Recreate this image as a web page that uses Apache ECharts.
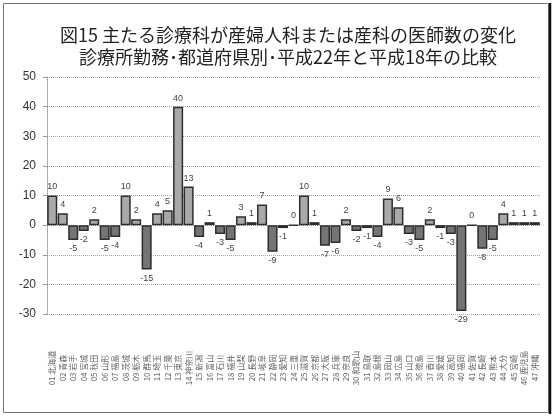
<!DOCTYPE html>
<html>
<head>
<meta charset="utf-8">
<script src="https://cdn.jsdelivr.net/npm/echarts@6/dist/echarts.min.js"></script>
<style>
  html, body { margin: 0; padding: 0; background: #fff; }
  #chart { width: 555px; height: 420px; }
</style>
</head>
<body>
<div id="chart"></div>
<script>
// Prefectures (code + name) along the category axis
const prefectures = [
  '01 北海道', '02 青森', '03 岩手', '04 宮城', '05 秋田', '06 山形', '07 福島',
  '08 茨城', '09 栃木', '10 群馬', '11 埼玉', '12 千葉', '13 東京', '14 神奈川',
  '15 新潟', '16 富山', '17 石川', '18 福井', '19 山梨', '20 長野', '21 岐阜',
  '22 静岡', '23 愛知', '24 三重', '25 滋賀', '26 京都', '27 大阪', '28 兵庫',
  '29 奈良', '30 和歌山', '31 鳥取', '32 島根', '33 岡山', '34 広島', '35 山口',
  '36 徳島', '37 香川', '38 愛媛', '39 高知', '40 福岡', '41 佐賀', '42 長崎',
  '43 熊本', '44 大分', '45 宮崎', '46 鹿児島', '47 沖縄'
];

// Change in number of clinic-based OB/GYN doctors (H22 minus H18)
const changeH22vsH18 = [
  10, 4, -5, -2, 2, -5, -4, 10, 2, -15,
  4, 5, 40, 13, -4, 1, -3, -5, 3, 1,
  7, -9, -1, 0, 10, 1, -7, -6, 2, -2,
  -1, -4, 9, 6, -3, -5, 2, -1, -3, -29,
  0, -8, -5, 4, 1, 1, 1
];

// Value axis ticks
const yTicks = { min: -30, max: 50, step: 10 };

const titleLines = [
  '図15 主たる診療科が産婦人科または産科の医師数の変化',
  '診療所勤務･都道府県別･平成22年と平成18年の比較'
];

const chart = echarts.init(document.getElementById('chart'));

const barItems = changeH22vsH18.map(v => ({
  value: v,
  itemStyle: { color: v < 0 ? '#747474' : '#a9a9a9' },
  label: { position: v < 0 ? 'bottom' : 'top' }
}));

chart.setOption({
  backgroundColor: '#ffffff',
  animation: false,
  title: {
    text: titleLines.join('\n'),
    left: 283,
    textAlign: 'center',
    top: 19,
    textStyle: {
      fontFamily: '"Noto Sans CJK JP", sans-serif',
      fontSize: 18,
      fontWeight: 'normal',
      lineHeight: 22,
      color: '#222'
    }
  },
  grid: { left: 47, right: 15, top: 77, bottom: 106 },
  xAxis: {
    type: 'category',
    data: prefectures,
    axisLine: { show: false, onZero: false },
    axisTick: { show: false },
    axisLabel: {
      interval: 0,
      rotate: 90,
      align: 'center',
      verticalAlign: 'middle',
      margin: 54,
      fontSize: 8,
      color: '#666',
      fontFamily: '"Noto Sans CJK JP", sans-serif'
    }
  },
  yAxis: {
    type: 'value',
    min: yTicks.min,
    max: yTicks.max,
    interval: yTicks.step,
    axisLine: { show: true, lineStyle: { color: '#9a9a9a', type: 'dotted', width: 1 } },
    axisTick: { show: true, length: 4, lineStyle: { color: '#9a9a9a' } },
    axisLabel: {
      margin: 11,
      fontSize: 12,
      color: '#333',
      fontFamily: '"Liberation Sans", sans-serif'
    },
    splitLine: { show: true, lineStyle: { color: '#a0a0a0', type: 'dotted', width: 1 } }
  },
  series: [{
    type: 'bar',
    data: barItems,
    barCategoryGap: '4%',
    itemStyle: { borderColor: '#2e2e2e', borderWidth: 1.5 },
    label: {
      show: true,
      distance: 4,
      fontSize: 9,
      color: '#444',
      fontFamily: '"Liberation Sans", sans-serif'
    }
  }],
  graphic: [
    {
      type: 'rect',
      shape: { x: 3.5, y: 3.5, width: 545, height: 409 },
      style: { fill: null, stroke: '#777', lineWidth: 1 },
      silent: true
    },
    {
      type: 'line',
      shape: { x1: 550, y1: 3, x2: 550, y2: 414 },
      style: { stroke: '#111', lineWidth: 2.5 },
      silent: true
    }
  ]
});
</script>
</body>
</html>
